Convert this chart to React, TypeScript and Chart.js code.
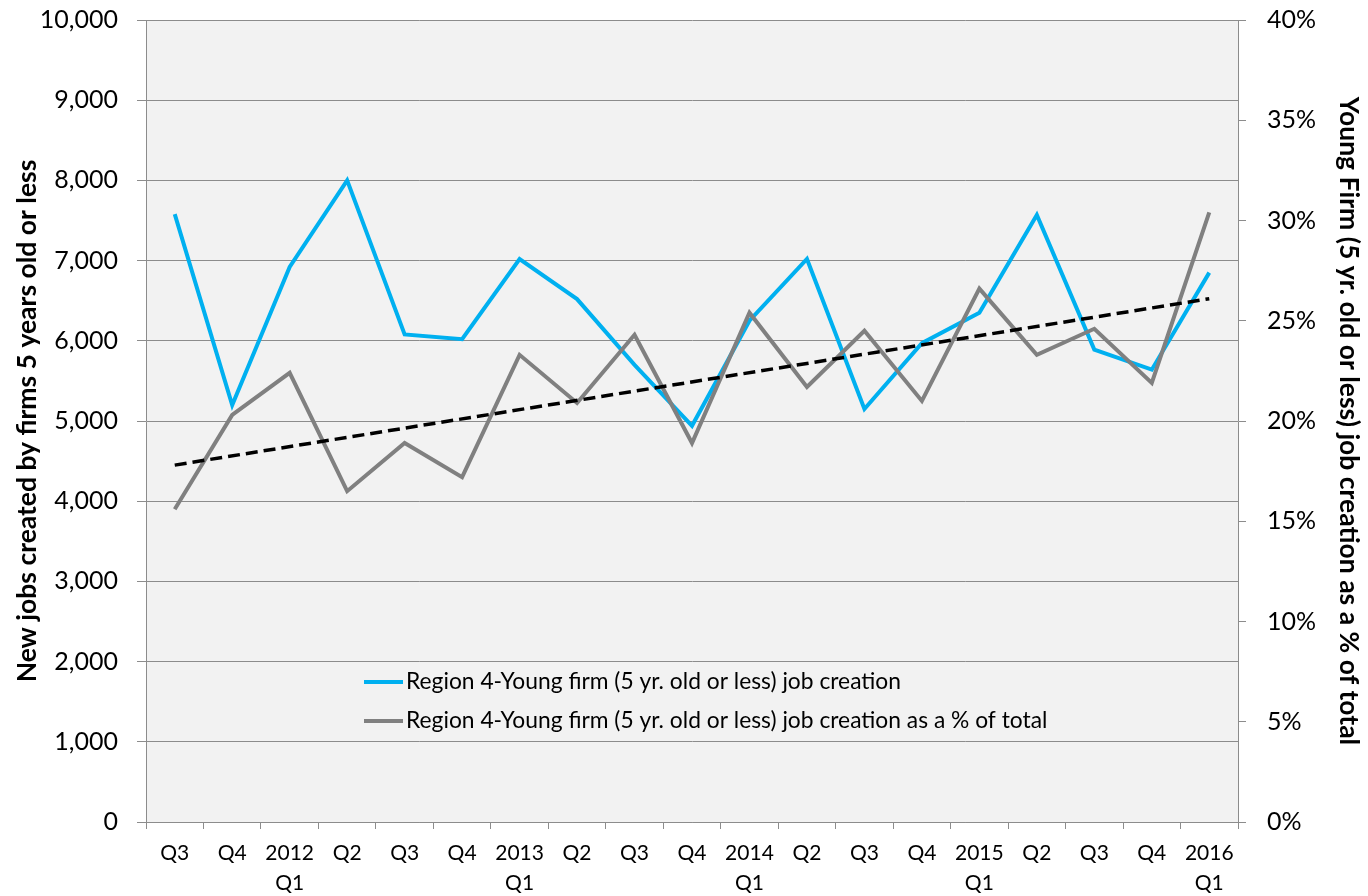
import React, { useEffect, useRef } from 'react';
import { Chart, registerables } from 'chart.js';

Chart.register(...registerables);

// ---- data ----
const categories: (string | string[])[] = [
  'Q3', 'Q4', ['2012', 'Q1'], 'Q2', 'Q3', 'Q4', ['2013', 'Q1'], 'Q2', 'Q3', 'Q4',
  ['2014', 'Q1'], 'Q2', 'Q3', 'Q4', ['2015', 'Q1'], 'Q2', 'Q3', 'Q4', ['2016', 'Q1'],
];
const jobCreation = [
  7580, 5200, 6920, 8000, 6080, 6020, 7020, 6520, 5700, 4940,
  6250, 7020, 5150, 5970, 6350, 7570, 5890, 5640, 6850,
];
const shareOfTotal = [
  15.6, 20.3, 22.4, 16.5, 18.9, 17.2, 23.3, 20.9, 24.3, 18.9,
  25.4, 21.7, 24.5, 21.0, 26.6, 23.3, 24.6, 21.9, 30.4,
];
const trendEnds = [17.8, 26.1];
const leftTicks = [0, 1000, 2000, 3000, 4000, 5000, 6000, 7000, 8000, 9000, 10000];
const rightTicks = [0, 5, 10, 15, 20, 25, 30, 35, 40];
const seriesNames = [
  'Region 4-Young firm (5 yr. old or less) job creation',
  'Region 4-Young firm (5 yr. old or less) job creation as a % of total',
];
const leftTitle = 'New jobs created by firms 5 years old or less';
const rightTitle = 'Young Firm (5 yr. old or less) job creation as a % of total';

const BLUE = '#00b0f0';
const GRAY = '#808080';
const AXIS = '#8c8c8c';
const FONT = 'Lato';

const trendData = categories.map((_, i) =>
  i === 0 ? trendEnds[0] : i === categories.length - 1 ? trendEnds[1] : null
);

const bgPlugin = {
  id: 'plotBg',
  beforeDraw(chart: any) {
    const { ctx, chartArea: a } = chart;
    ctx.save();
    ctx.fillStyle = '#ffffff';
    ctx.fillRect(0, 0, chart.width, chart.height);
    ctx.fillStyle = '#f2f2f2';
    ctx.fillRect(a.left, a.top, a.right - a.left, a.bottom - a.top);
    ctx.restore();
  },
};

const legendPlugin = {
  id: 'inLegend',
  afterDraw(chart: any) {
    const { ctx } = chart;
    const rows = [
      { color: BLUE, text: seriesNames[0], y: 682 },
      { color: GRAY, text: seriesNames[1], y: 721 },
    ];
    ctx.save();
    ctx.font = `22.8px ${FONT}`;
    ctx.textBaseline = 'middle';
    ctx.textAlign = 'left';
    rows.forEach((r) => {
      ctx.strokeStyle = r.color;
      ctx.lineWidth = 4;
      ctx.beginPath();
      ctx.moveTo(364, r.y);
      ctx.lineTo(403, r.y);
      ctx.stroke();
      ctx.fillStyle = '#000';
      ctx.fillText(r.text, 406, r.y);
    });
    ctx.restore();
  },
};

export default function App() {
  const ref = useRef<HTMLCanvasElement | null>(null);

  useEffect(() => {
    if (!ref.current) return;
    const chart = new Chart(ref.current, {
      type: 'line',
      data: {
        labels: categories as any,
        datasets: [
          {
            label: 'trend',
            data: trendData,
            yAxisID: 'y1',
            borderColor: '#000',
            borderWidth: 3.5,
            borderDash: [12, 6],
            spanGaps: true,
            pointRadius: 0,
            order: 1,
          },
          {
            label: seriesNames[1],
            data: shareOfTotal,
            yAxisID: 'y1',
            borderColor: GRAY,
            borderWidth: 4,
            pointRadius: 0,
            tension: 0,
            order: 2,
          },
          {
            label: seriesNames[0],
            data: jobCreation,
            yAxisID: 'y',
            borderColor: BLUE,
            borderWidth: 4,
            pointRadius: 0,
            tension: 0,
            order: 3,
          },
        ],
      },
      options: {
        responsive: false,
        animation: false,
        layout: { padding: { top: 20, left: 0, right: 0, bottom: 0 } },
        plugins: { legend: { display: false }, tooltip: { enabled: false } },
        scales: {
          x: {
            offset: true,
            grid: {
              offset: true,
              drawOnChartArea: false,
              drawTicks: true,
              tickLength: 7,
              color: AXIS,
            },
            border: { display: true, color: AXIS, width: 1 },
            ticks: {
              autoSkip: false,
              maxRotation: 0,
              minRotation: 0,
              padding: 10,
              color: '#000',
              font: { family: FONT, size: 21, lineHeight: 1.4 },
            },
            afterFit(scale: any) {
              scale.height = 74;
              scale.paddingLeft = 0;
              scale.paddingRight = 0;
            },
          },
          y: {
            position: 'left',
            min: 0,
            max: 10000,
            afterBuildTicks(scale: any) {
              scale.ticks = leftTicks.map((v) => ({ value: v }));
            },
            grid: { color: AXIS, lineWidth: 1, tickLength: 9, drawTicks: true },
            border: { display: true, color: AXIS, width: 1 },
            ticks: {
              padding: 19,
              color: '#000',
              font: { family: FONT, size: 25 },
              callback: (v: any) => Number(v).toLocaleString('en-US'),
            },
            title: {
              display: true,
              text: leftTitle,
              color: '#000',
              font: { family: FONT, size: 26.5, weight: 'bold' },
              padding: { top: 12, bottom: 0 },
            },
            afterFit(scale: any) {
              scale.width = 146;
              scale.paddingTop = 0;
              scale.paddingBottom = 0;
            },
          },
          y1: {
            position: 'right',
            min: 0,
            max: 40,
            afterBuildTicks(scale: any) {
              scale.ticks = rightTicks.map((v) => ({ value: v }));
            },
            grid: { drawOnChartArea: false, color: AXIS, tickLength: 8, drawTicks: true },
            border: { display: true, color: AXIS, width: 1 },
            ticks: {
              padding: 21,
              color: '#000',
              font: { family: FONT, size: 25 },
              callback: (v: any) => `${v}%`,
            },
            title: {
              display: true,
              text: rightTitle,
              color: '#000',
              font: { family: FONT, size: 26.5, weight: 'bold' },
              padding: { top: 4, bottom: 0 },
            },
            afterFit(scale: any) {
              scale.width = 130;
              scale.paddingTop = 0;
              scale.paddingBottom = 0;
            },
          },
        },
      } as any,
      plugins: [bgPlugin, legendPlugin],
    });
    return () => chart.destroy();
  }, []);

  return (
    <div style={{ position: 'fixed', left: 0, top: 0, width: 1368, height: 896, background: '#fff' }}>
      <canvas ref={ref} width={1368} height={896} style={{ width: 1368, height: 896, display: 'block' }} />
    </div>
  );
}
